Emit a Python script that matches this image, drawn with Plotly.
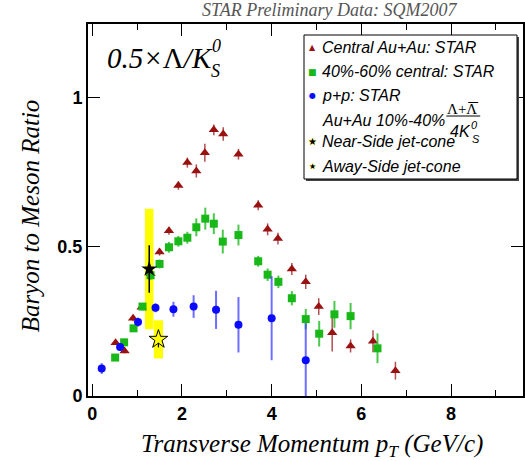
import plotly.graph_objects as go

# ---------------- data ----------------
# Central Au+Au: STAR  (0.5 * Lambda / K0S)
cent_pt = [0.52, 0.72, 0.91, 1.10, 1.30, 1.50, 1.71, 1.92, 2.12, 2.32, 2.51, 2.71,
           2.92, 3.26, 3.70, 3.91, 4.14, 4.45, 4.76, 5.05, 5.35, 5.76, 6.26, 6.76]
cent_ratio = [0.179, 0.151, 0.261, 0.298, 0.410, 0.483, 0.554, 0.706, 0.783, 0.755, 0.816, 0.893,
              0.879, 0.811, 0.640, 0.559, 0.528, 0.426, 0.383, 0.300, 0.212, 0.168, 0.184, 0.085]
cent_err = [0.008, 0.008, 0.010, 0.010, 0.012, 0.012, 0.013, 0.014, 0.017, 0.022, 0.030, 0.018,
            0.023, 0.018, 0.017, 0.020, 0.020, 0.020, 0.024, 0.028, 0.063, 0.022, 0.037, 0.030]

# 40%-60% central: STAR
mid_pt = [0.51, 0.71, 0.92, 1.12, 1.30, 1.50, 1.71, 1.92, 2.12, 2.32, 2.52, 2.71,
          2.91, 3.26, 3.70, 3.91, 4.15, 4.45, 4.76, 5.06, 5.40, 5.76, 6.36]
mid_ratio = [0.129, 0.180, 0.227, 0.300, 0.405, 0.443, 0.499, 0.519, 0.531, 0.566, 0.595, 0.578,
             0.518, 0.540, 0.452, 0.407, 0.383, 0.328, 0.258, 0.209, 0.274, 0.268, 0.160]
mid_err = [0.008, 0.008, 0.010, 0.012, 0.015, 0.015, 0.018, 0.018, 0.020, 0.030, 0.037, 0.035,
           0.040, 0.035, 0.018, 0.021, 0.021, 0.024, 0.034, 0.043, 0.045, 0.044, 0.050]

# p+p: STAR
pp_pt = [0.21, 0.62, 1.02, 1.41, 1.81, 2.26, 2.76, 3.26, 4.00, 4.76]
pp_ratio = [0.092, 0.164, 0.248, 0.296, 0.291, 0.300, 0.289, 0.239, 0.261, 0.120]
pp_err = [0.018, 0.012, 0.015, 0.015, 0.025, 0.038, 0.064, 0.093, 0.141, 0.124]

# Au+Au 10%-40% (Lambda+antiLambda)/(4 K0S), jet-cone
near_pt = [1.27]
near_ratio = [0.426]
near_stat = [0.080]
near_sys = [0.202]
near_binw = [0.19]

away_pt = [1.475]
away_ratio = [0.190]
away_stat = [0.027]
away_sys = [0.064]
away_binw = [0.205]

x_ticks = [0, 2, 4, 6, 8]
x_ticktext = ["0", "2", "4", "6", "8"]
y_ticks = [0, 0.5, 1]
y_ticktext = ["0", "0.5", "1"]

# ---------------- style ----------------
RED = "#991111"
GREEN = "#17b817"
BLUE = "#0a0aff"
SERIF = "Liberation Serif, Times New Roman, serif"
SANS = "Liberation Sans, Arial, sans-serif"

W, H = 525, 461
ML, MR, MT, MB = 88, 0, 24, 65
PW, PH = W - ML - MR, H - MT - MB


def px(x):
    return (x - ML) / PW


def py(y):
    return (H - MB - y) / PH


fig = go.Figure()

# systematic boxes (yellow)
for xs, ys, sy, bw in [(near_pt, near_ratio, near_sys, near_binw),
                       (away_pt, away_ratio, away_sys, away_binw)]:
    fig.add_trace(go.Bar(
        x=xs, y=[2 * s for s in sy], base=[v - s for v, s in zip(ys, sy)], width=bw,
        marker=dict(color="#ffff00", line=dict(width=0)), showlegend=False, hoverinfo="skip"))

fig.add_trace(go.Scatter(
    x=cent_pt, y=cent_ratio, mode="markers",
    marker=dict(symbol="triangle-up", size=9, color=RED),
    error_y=dict(type="data", array=cent_err, color="rgba(150,20,20,0.75)", thickness=1.5, width=0),
    showlegend=False))

fig.add_trace(go.Scatter(
    x=mid_pt, y=mid_ratio, mode="markers",
    marker=dict(symbol="square", size=8, color=GREEN),
    error_y=dict(type="data", array=mid_err, color="rgba(30,185,30,0.8)", thickness=2, width=0),
    showlegend=False))

fig.add_trace(go.Scatter(
    x=pp_pt, y=pp_ratio, mode="markers",
    marker=dict(symbol="circle", size=8, color=BLUE),
    error_y=dict(type="data", array=pp_err, color="rgba(60,60,255,0.75)", thickness=2, width=0),
    showlegend=False))

fig.add_trace(go.Scatter(
    x=near_pt, y=near_ratio, mode="markers",
    marker=dict(symbol="star", size=12, color="black"),
    error_y=dict(type="data", array=near_stat, color="black", thickness=1.5, width=0),
    showlegend=False))

fig.add_trace(go.Scatter(
    x=away_pt, y=away_ratio, mode="markers",
    marker=dict(symbol="star", size=14, color="#ffff00", line=dict(color="black", width=1)),
    error_y=dict(type="data", array=away_stat, color="black", thickness=1.2, width=0),
    showlegend=False))

tickfont = dict(family=SANS, size=18, color="black", weight="bold")

fig.update_xaxes(
    range=[-0.0955, 9.605], tickvals=x_ticks, ticktext=x_ticktext,
    ticks="inside", ticklen=12, tickwidth=1, tickcolor="black",
    minor=dict(dtick=1, ticks="inside", ticklen=6, tickcolor="black", tickwidth=1),
    showline=True, linecolor="black", linewidth=2, mirror="ticks",
    showgrid=False, zeroline=False, tickfont=tickfont)
fig.update_yaxes(
    range=[0, 1.248], tickvals=y_ticks, ticktext=y_ticktext,
    ticks="inside", ticklen=12, tickwidth=1, tickcolor="black",
    showline=True, linecolor="black", linewidth=2, mirror="ticks",
    showgrid=False, zeroline=False, tickfont=tickfont)

ann = []
# title
ann.append(dict(text="<i>STAR Preliminary Data: SQM2007</i>", x=px(331), y=py(10),
                font=dict(family=SERIF, size=18, color="#555555")))
# axis titles
ann.append(dict(text="<i>Transverse Momentum p<sub>T</sub> (GeV/c)</i>", x=px(313), y=py(445),
                font=dict(family=SERIF, size=25, color="black")))
ann.append(dict(text="<i>Baryon to Meson Ratio</i>", x=px(30), y=py(216), textangle=-90,
                font=dict(family=SERIF, size=25, color="black")))
# ratio label
ann.append(dict(text="<i>0.5×</i>Λ<i>/K</i>", x=px(105), y=py(58), xanchor="left",
                font=dict(family=SERIF, size=29, color="black")))
ann.append(dict(text="<i>0</i>", x=px(217), y=py(46),
                font=dict(family=SERIF, size=18, color="black")))
ann.append(dict(text="<i>S</i>", x=px(216), y=py(71),
                font=dict(family=SERIF, size=18, color="black")))

# legend
rows = [("▲", RED, 8, "Central Au+Au: STAR", 47.5),
        ("■", GREEN, 9, "40%-60% central: STAR", 71.5),
        ("●", BLUE, 8, "p+p: STAR", 95),
        (None, None, 0, "Au+Au 10%-40%", 120),
        ("★", "black", 10, "Near-Side jet-cone", 141.5),
        ("★", "black", 8, "Away-Side jet-cone", 166.5)]
for g, c, s, t, yy in rows:
    if g:
        ann.append(dict(text=g, x=px(314), y=py(yy),
                        font=dict(family="DejaVu Sans", size=s, color=c,
                                  shadow=("0px 0px 2px #ffff00" if c == "black" else "none"))))
    ann.append(dict(text="<i>" + t + "</i>", x=px(321), y=py(yy), xanchor="left",
                    font=dict(family=SANS, size=16, color="black")))
ann.append(dict(text="Λ+Λ", x=px(464), y=py(109),
                font=dict(family=SERIF, size=15, color="black")))
ann.append(dict(text="<i>4K</i>", x=px(462), y=py(131),
                font=dict(family=SANS, size=16, color="black")))
ann.append(dict(text="<i>0</i>", x=px(476), y=py(125),
                font=dict(family=SANS, size=11, color="black")))
ann.append(dict(text="<i>S</i>", x=px(478), y=py(139),
                font=dict(family=SANS, size=11, color="black")))

for a in ann:
    a.setdefault("xref", "paper")
    a.setdefault("yref", "paper")
    a.setdefault("showarrow", False)
    a.setdefault("xanchor", "center")
    a.setdefault("yanchor", "middle")

shapes = [
    dict(type="rect", xref="paper", yref="paper", x0=px(307), x1=px(521), y0=py(37), y1=py(181),
         fillcolor="#444444", line=dict(width=0), layer="above"),
    dict(type="rect", xref="paper", yref="paper", x0=px(305), x1=px(519), y0=py(35), y1=py(179),
         fillcolor="white", line=dict(color="black", width=1), layer="above"),
    # fraction bar
    dict(type="line", xref="paper", yref="paper", x0=px(448), x1=px(482), y0=py(116), y1=py(116),
         line=dict(color="black", width=1), layer="above"),
    # overline of anti-Lambda
    dict(type="line", xref="paper", yref="paper", x0=px(470), x1=px(480), y0=py(102.5), y1=py(102.5),
         line=dict(color="black", width=1), layer="above"),
]

fig.update_layout(
    width=W, height=H, margin=dict(l=ML, r=MR, t=MT, b=MB),
    paper_bgcolor="white", plot_bgcolor="white",
    barmode="overlay", showlegend=False,
    annotations=ann, shapes=shapes)

fig.write_html("out.html", config={"displayModeBar": False},
               post_script="document.body.style.margin='0px';")
